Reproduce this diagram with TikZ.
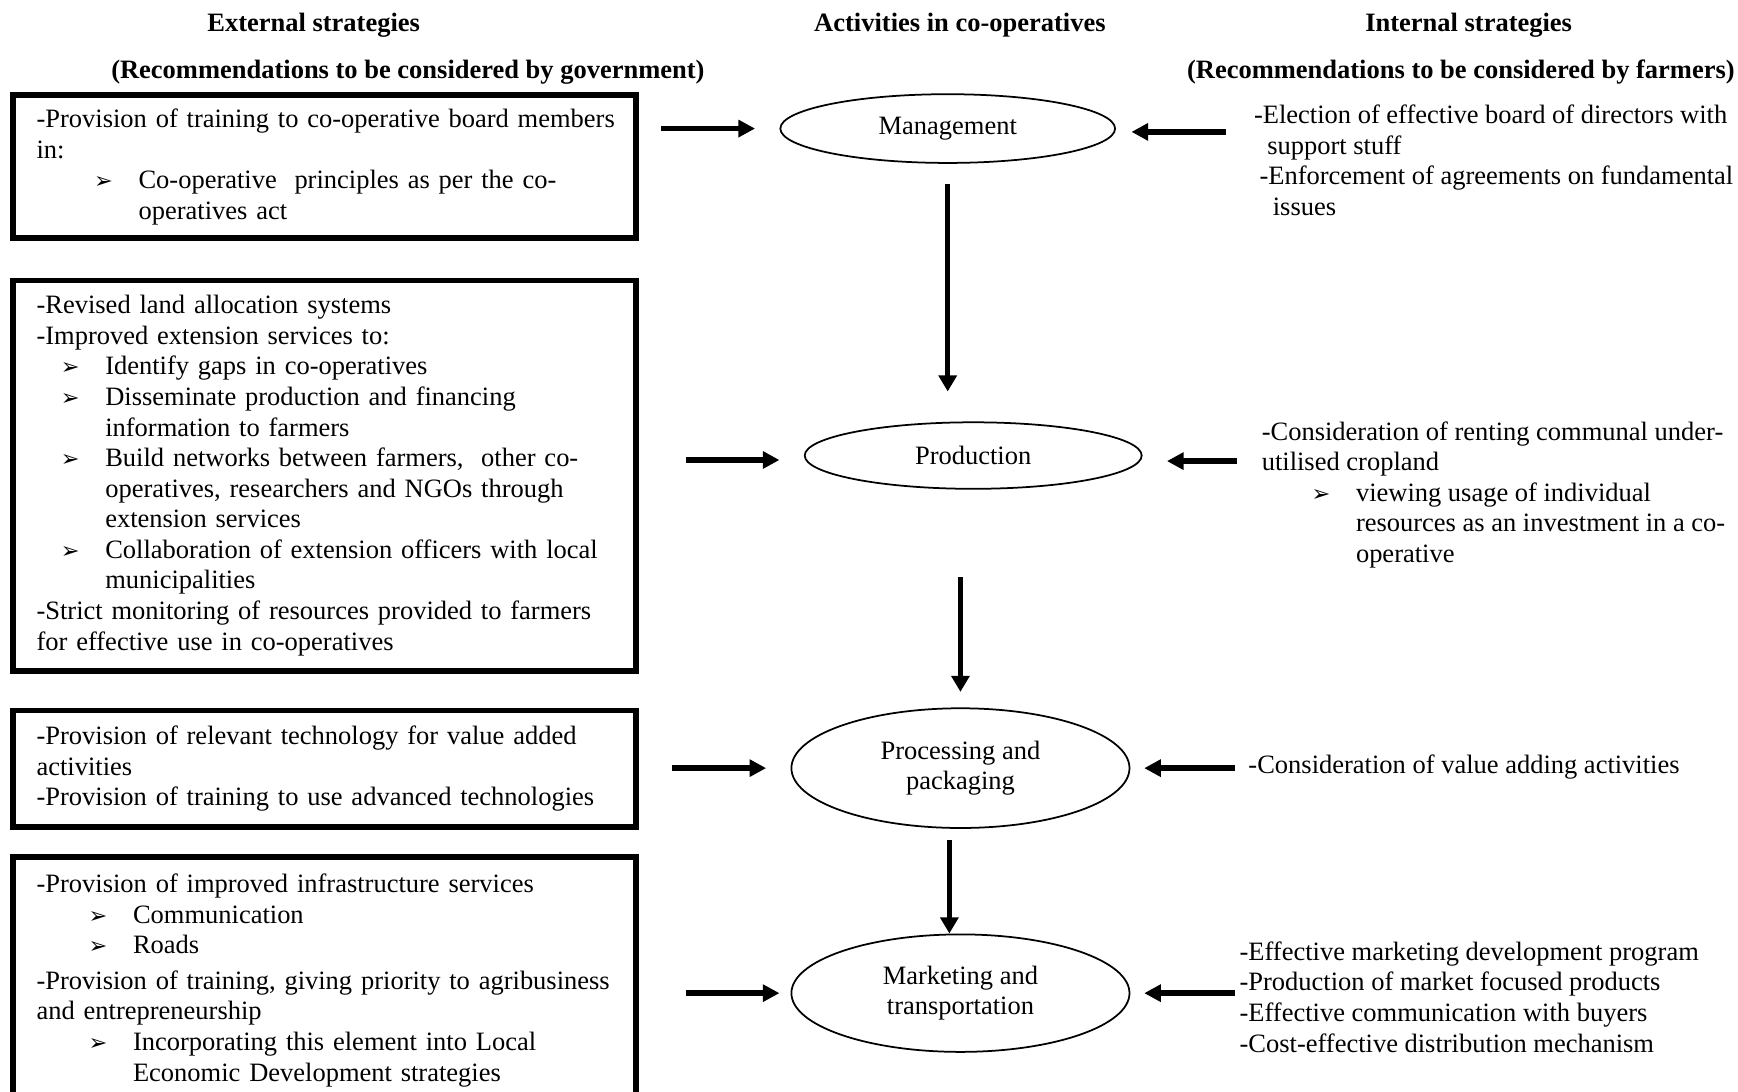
\documentclass[tikz,border=0pt]{standalone}
\usepackage{fontspec}
\setmainfont{Liberation Serif}
\newfontfamily\bulfont{DejaVu Sans}
\usetikzlibrary{shapes.geometric, arrows.meta, positioning, calc}

\newcommand{\figfont}{\fontsize{13.6}{15.7}\selectfont}
\newcommand{\bul}[1]{\hspace*{#1}\makebox[0.8cm][l]{\bulfont\fontsize{11.5}{11.5}\selectfont ➢}}

\begin{document}
\begin{tikzpicture}[
        stratbox/.style={rectangle, draw, line width=3pt, minimum width=11.24cm, text width=10.4cm, inner xsep=0.42cm, align=left, font=\figfont},
        activity/.style={ellipse, draw, line width=0.9pt, inner sep=0pt, align=center, font=\figfont},
        note/.style={inner sep=0pt, anchor=west, align=left, font=\figfont},
        head/.style={font=\figfont\bfseries},
        harrow/.style={-{Triangle[length=0.3cm, width=0.3cm]}, line width=3pt},
        varrow/.style={-{Triangle[length=0.29cm, width=0.32cm]}, line width=2.4pt}
    ]
        \useasboundingbox (0,0) rectangle (31.36,-19.70);
        \clip (0,0) rectangle (31.36,-19.70);

        % Headings
        \node[head] (hext) at (5.66,-0.46) {External strategies};
        \node[head] (hact) at (17.32,-0.46) {Activities in co-operatives};
        \node[head] (hint) at (26.50,-0.46) {Internal strategies};
        \node[head] (hgov) at (7.36,-1.30) {(Recommendations to be considered by government)};
        \node[head] (hfarm) at (26.36,-1.30) {(Recommendations to be considered by farmers)};

        % Activities in co-operatives
        \node[activity, minimum width=6.04cm, minimum height=1.24cm] (mgmt) at (17.10,-2.32) {Management};
        \node[activity, minimum width=6.08cm, minimum height=1.2cm] (prod) at (17.56,-8.22) {Production};
        \node[activity, minimum width=6.1cm, minimum height=2.16cm] (proc) at (17.33,-13.86) {Processing and\\packaging};
        \node[activity, minimum width=6.1cm, minimum height=2.12cm] (mkt) at (17.33,-17.92) {Marketing and\\transportation};

        % External strategies
        \node[stratbox, minimum height=2.58cm] (ext1) at (5.86,-3.01) {\mbox{-Provision of training to co-operative board members}\\
            in:\\
            \bul{1.04cm}Co-operative\ \ principles as per the co-\\
            \hspace*{1.84cm}operatives act};
        \node[stratbox, minimum height=7.04cm] (ext2) at (5.86,-8.58) {-Revised land allocation systems\\
            -Improved extension services to:\\
            \bul{0.44cm}Identify gaps in co-operatives\\
            \bul{0.44cm}Disseminate production and financing\\
            \hspace*{1.24cm}information to farmers\\
            \bul{0.44cm}Build networks between farmers,\ \ other co-\\
            \hspace*{1.24cm}operatives, researchers and NGOs through\\
            \hspace*{1.24cm}extension services\\
            \bul{0.44cm}Collaboration of extension officers with local\\
            \hspace*{1.24cm}municipalities\\
            -Strict monitoring of resources provided to farmers\\
            for effective use in co-operatives};
        \node[stratbox, minimum height=2.1cm] (ext3) at (5.86,-13.87) {-Provision of relevant technology for value added\\
            activities\\
            -Provision of training to use advanced technologies};
        \node[stratbox, minimum height=4.46cm] (ext4) at (5.86,-17.69) {-Provision of improved infrastructure services\\
            \bul{0.94cm}Communication\\
            \bul{0.94cm}Roads\\[0.09cm]
            -Provision of training, giving priority to agribusiness\\
            and entrepreneurship\\
            \bul{0.94cm}Incorporating this element into Local\\
            \hspace*{1.74cm}Economic Development strategies};

        % Internal strategies
        \node[note] (int1) at (22.62,-2.89) {-Election of effective board of directors with\\
            \hspace*{0.24cm}support stuff\\
            \hspace*{0.1cm}-Enforcement of agreements on fundamental\\
            \hspace*{0.34cm}issues};
        \node[note] (int2) at (22.76,-8.93) {-Consideration of renting communal under-\\
            utilised cropland\\
            \bul{0.9cm}viewing usage of individual\\
            \hspace*{1.7cm}resources as an investment in a co-\\
            \hspace*{1.7cm}operative};
        \node[note] (int3) at (22.52,-13.84) {-Consideration of value adding activities};
        \node[note] (int4) at (22.36,-17.99) {-Effective marketing development program\\
            -Production of market focused products\\
            -Effective communication with buyers\\
            -Cost-effective distribution mechanism};

        % Flow between activities
        \draw[varrow, shorten <=0.36cm, shorten >=0.54cm] (mgmt.south) -- (mgmt.south |- prod.north);
        \draw[varrow, shorten <=1.58cm, shorten >=0.28cm] (proc.north |- prod.south) -- (proc.north);
        \draw[varrow, shorten <=0.2cm] ($(proc.south)+(-0.2,0)$) -- ($(proc.south |- mkt.north)+(-0.2,0)$);

        % External strategies into activities
        \draw[harrow, shorten <=0.4cm, shorten >=0.44cm] (ext1.east |- mgmt.west) -- (mgmt.west);
        \draw[harrow, shorten <=0.84cm, shorten >=0.44cm] ($(ext2.east |- prod.west)+(0,-0.08)$) -- ($(prod.west)+(0,-0.08)$);
        \draw[harrow, shorten <=0.6cm, shorten >=0.44cm] (ext3.east |- proc.west) -- (proc.west);
        \draw[harrow, shorten <=0.84cm, shorten >=0.2cm] (ext4.east |- mkt.west) -- (mkt.west);

        % Internal strategies into activities
        \draw[harrow, shorten <=0.5cm, shorten >=0.28cm] ($(int1.west |- mgmt.east)+(0,-0.06)$) -- ($(mgmt.east)+(0,-0.06)$);
        \draw[harrow, shorten <=0.44cm, shorten >=0.44cm] ($(int2.west |- prod.east)+(0,-0.1)$) -- ($(prod.east)+(0,-0.1)$);
        \draw[harrow, shorten <=0.24cm, shorten >=0.25cm] (int3.west |- proc.east) -- (proc.east);
        \draw[harrow, shorten <=0.08cm, shorten >=0.25cm] (int4.west |- mkt.east) -- (mkt.east);
    \end{tikzpicture}
\end{document}
